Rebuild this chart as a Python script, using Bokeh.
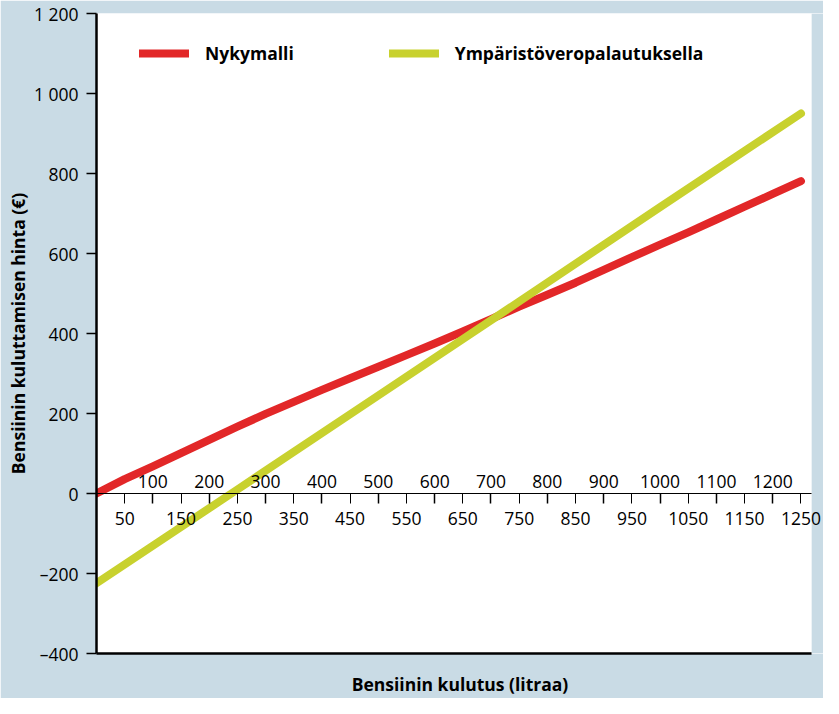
from bokeh.plotting import figure
from bokeh.models import (LinearAxis, FixedTicker, Range1d, Legend, LegendItem,
                          BoxAnnotation)
from bokeh.embed import file_html
from bokeh.resources import INLINE

# ---- data ----
litres = [0, 50, 100, 150, 200, 250, 300, 350, 400, 450, 500, 550, 600,
          650, 700, 750, 800, 850, 900, 950, 1000, 1050, 1100, 1150, 1200, 1250]
nykymalli = [0, 36, 68, 101, 134, 167, 199, 229, 259, 288, 317, 346, 375,
             405, 436, 467, 497, 527, 559, 591, 622, 653, 685, 717, 749, 781]
ymparisto_litres = [0, 250, 500, 750, 1000, 1250]
ymparisto = [-224, 10, 245, 480, 716, 950]

series_names = ["Nykymalli", "Ympäristöveropalautuksella"]
x_ticks_below = [50, 150, 250, 350, 450, 550, 650, 750, 850, 950, 1050, 1150, 1250]
x_ticks_above = [100, 200, 300, 400, 500, 600, 700, 800, 900, 1000, 1100, 1200]
y_ticks = [-400, -200, 0, 200, 400, 600, 800, 1000, 1200]
y_tick_labels = ["–400", "–200", "0", "200", "400", "600", "800", "1 000", "1 200"]
y_grid = [-200, 200, 400, 600, 800, 1000, 1200]

x_title = "Bensiinin kulutus (litraa)"
y_title = "Bensiinin kuluttamisen hinta (€)"

# ---- style / layout ----
BG = "#c9dbe5"
RED = "#e22728"
YEL = "#c8d12e"
FONT = "Open Sans"
FS = "17.5px"
PLOT_END = 1269      # where the white plot area ends
CANVAS_END = 1290    # x value at the right edge of the canvas

p = figure(width=823, height=698, output_backend="svg", toolbar_location=None,
           x_range=Range1d(0, CANVAS_END), y_range=Range1d(-400, 1200),
           min_border_left=96, min_border_right=0, min_border_top=13,
           min_border_bottom=44, x_axis_type=None, y_axis_type=None)
p.border_fill_color = BG
p.background_fill_color = "white"
p.outline_line_color = None

# left y axis
yax = LinearAxis(ticker=FixedTicker(ticks=y_ticks),
                 major_label_overrides={t: l for t, l in zip(y_ticks, y_tick_labels)})
yax.axis_line_width = 2.5
yax.axis_line_color = "black"
yax.major_tick_out = 10
yax.major_tick_in = 0
yax.major_tick_line_width = 1.5
yax.major_tick_line_color = "black"
yax.minor_tick_line_color = None
yax.major_label_standoff = 8
yax.major_label_text_font = FONT
yax.major_label_text_font_size = FS
yax.major_label_text_color = "black"
yax.axis_label = y_title
yax.axis_label_text_font = FONT
yax.axis_label_text_font_size = FS
yax.axis_label_text_font_style = "bold"
yax.axis_label_text_color = "black"
yax.axis_label_standoff = 1
p.add_layout(yax, "left")

# bottom frame axis (title only)
bax = LinearAxis(ticker=FixedTicker(ticks=[]), bounds=(0, PLOT_END))
bax.axis_line_width = 2.5
bax.axis_line_color = "black"
bax.major_tick_out = 0
bax.major_tick_in = 0
bax.minor_tick_line_color = None
bax.major_label_standoff = 0
bax.axis_label = x_title
bax.axis_label_text_font = FONT
bax.axis_label_text_font_size = FS
bax.axis_label_text_font_style = "bold"
bax.axis_label_text_color = "black"
bax.axis_label_standoff = 18
p.add_layout(bax, "below")

# x axis at y = 0 : labels below (odd 50s)
xa = LinearAxis(ticker=FixedTicker(ticks=x_ticks_below), fixed_location=0,
                bounds=(0, PLOT_END))
xa.axis_line_color = "black"
xa.axis_line_width = 1
xa.major_tick_out = 10
xa.major_tick_in = 0
xa.major_tick_line_color = "black"
xa.major_tick_line_width = 1
xa.minor_tick_line_color = None
xa.major_label_standoff = 8
xa.major_label_text_font = FONT
xa.major_label_text_font_size = FS
xa.major_label_text_color = "black"
p.add_layout(xa, "below")

# x axis at y = 0 : labels above (100s), ticks pointing down
xb = LinearAxis(ticker=FixedTicker(ticks=x_ticks_above), fixed_location=0,
                bounds=(0, PLOT_END))
xb.axis_line_color = None
xb.major_tick_out = 0
xb.major_tick_in = 10
xb.major_tick_line_color = "black"
xb.major_tick_line_width = 1.5
xb.minor_tick_line_color = None
xb.major_label_standoff = 6
xb.major_label_text_font = FONT
xb.major_label_text_font_size = FS
xb.major_label_text_color = "black"
p.add_layout(xb, "above")

# horizontal grid
p.ygrid.ticker = FixedTicker(ticks=y_grid)
p.ygrid.grid_line_color = "black"
p.ygrid.grid_line_width = 1.2
p.xgrid.grid_line_color = None

# background strip right of the plot area
p.add_layout(BoxAnnotation(left=PLOT_END, fill_color=BG, fill_alpha=1,
                           line_color=None, level="underlay"))

r_red = p.line(litres, nykymalli, line_color=RED, line_width=8, line_cap="round",
               line_join="round")
r_yel = p.line(ymparisto_litres, ymparisto, line_color=YEL, line_width=8,
               line_cap="round", line_join="round")

legend = Legend(items=[LegendItem(label=series_names[0], renderers=[r_red]),
                       LegendItem(label=series_names[1], renderers=[r_yel])],
                orientation="horizontal", location=(43, 587),
                glyph_width=50, glyph_height=26, label_height=26,
                label_standoff=16, spacing=95, padding=0, margin=0,
                border_line_color=None, background_fill_alpha=0,
                label_text_font=FONT, label_text_font_size=FS,
                label_text_font_style="bold", label_text_color="black")
p.add_layout(legend)

open("out.html", "w").write(file_html(p, INLINE))
